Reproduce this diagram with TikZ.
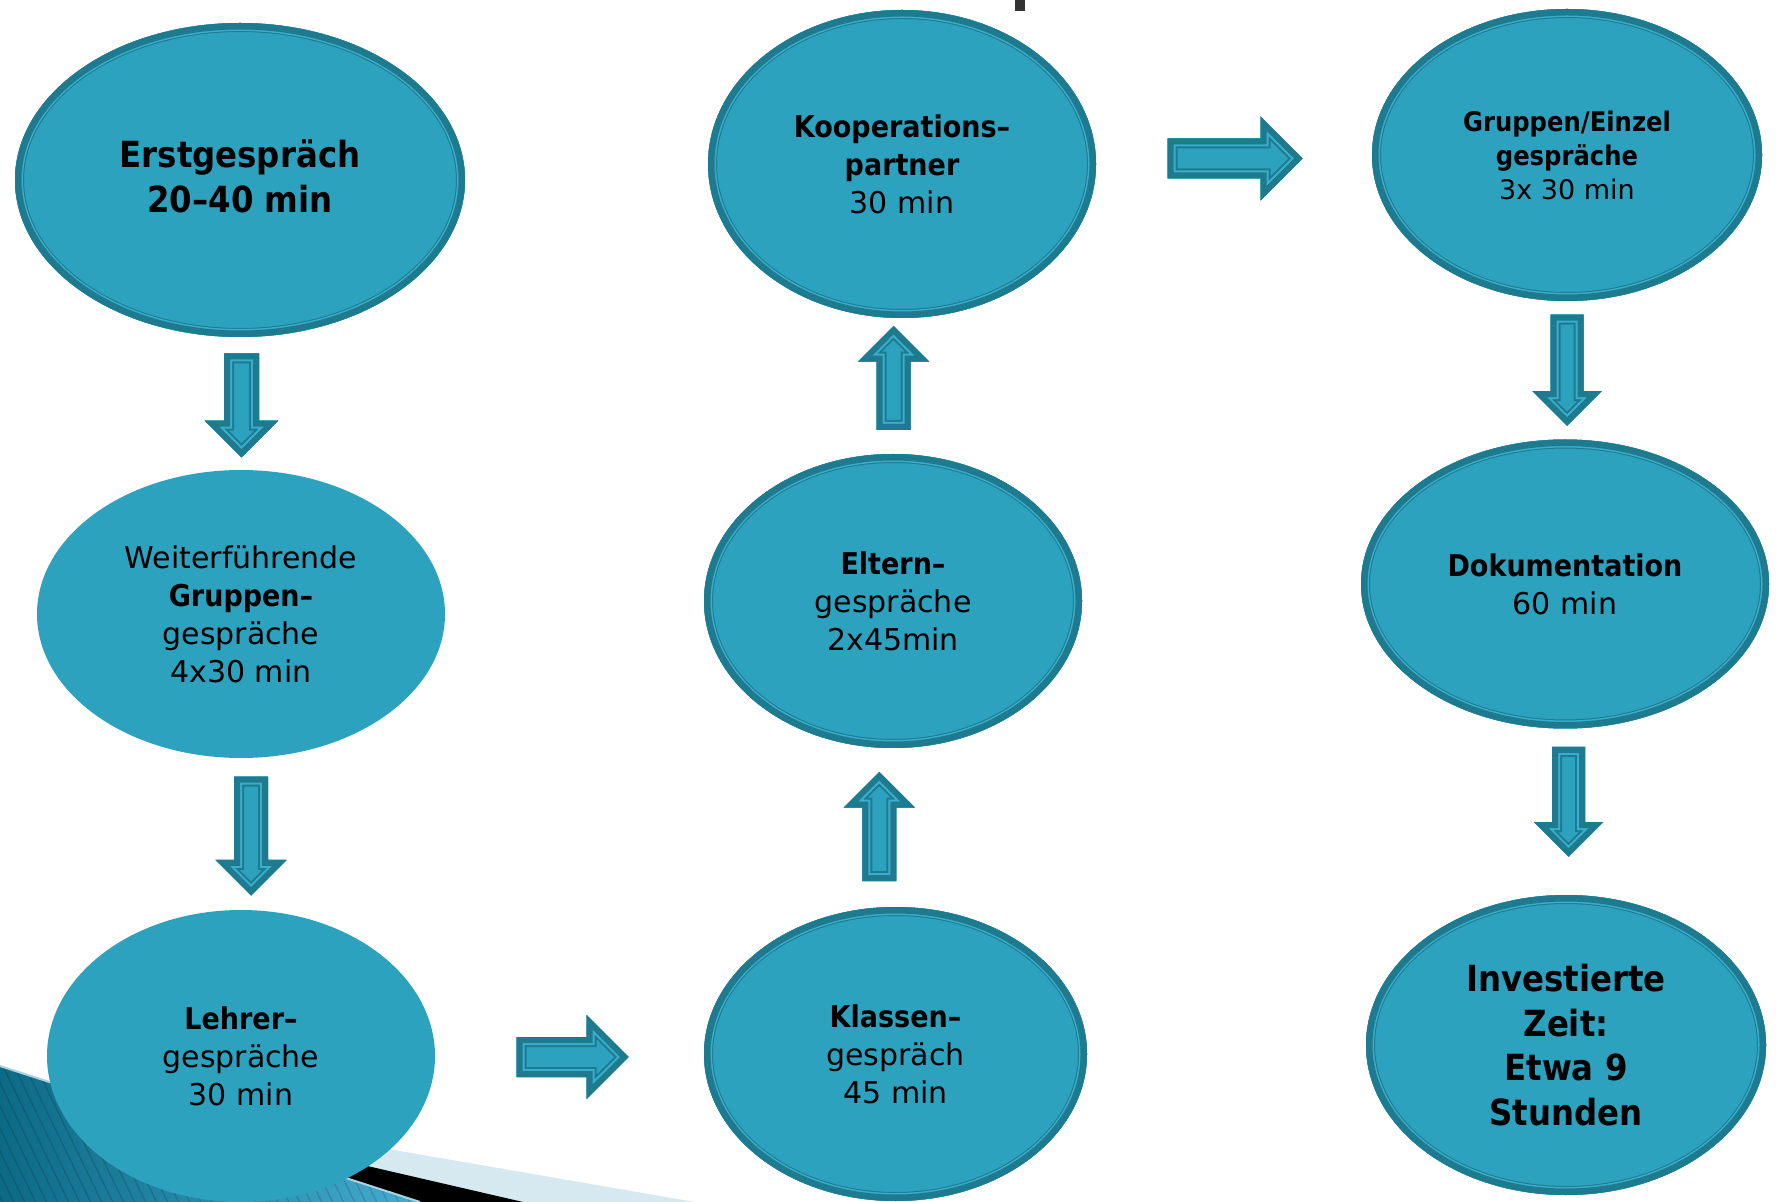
\documentclass[tikz,border=0pt]{standalone}
\usepackage{fontspec}
\setmainfont{DejaVu Sans}[BoldFeatures={FakeStretch=0.9}]
\usepackage{tikz}
\usetikzlibrary{shapes.geometric, calc}

\definecolor{tealfill}{HTML}{2CA2BF}
\definecolor{tealdark}{HTML}{1E7A8E}
\definecolor{teallight}{HTML}{38AECC}
\definecolor{bandlight}{HTML}{D6E9F0}
\definecolor{stripedark}{HTML}{0C6A86}
\definecolor{stripelight}{HTML}{45ACD0}
\definecolor{edgelight}{HTML}{A9D3E0}

\tikzset{
  bubble/.style={ellipse, fill=tealfill, inner sep=0pt, align=center,
                 font=\fontsize{15}{19}\selectfont},
  ringed/.style={path picture={
      \foreach \w/\c in {9pt/tealdark, 8pt/teallight, 6.5pt/tealdark}
        \draw[\c, line width=\w]
          let \p1=($(path picture bounding box.north east)-(path picture bounding box.center)$)
          in (path picture bounding box.center) ellipse ({\x1} and {\y1});
  }},
  pics/fatarrow/.style n args={2}{code={
      \pgfmathsetmacro\fa{#1/2}
      \pgfmathsetmacro\fb{#1/2-1.05*#2}
      \pgfmathsetmacro\fs{#2/2}
      \pgfmathsetmacro\fh{1.05*#2}
      \def\fatpath{(-\fa,-\fs) -- (\fb,-\fs) -- (\fb,-\fh) -- (\fa,0) -- (\fb,\fh) -- (\fb,\fs) -- (-\fa,\fs) -- cycle}
      \begin{scope}[line join=miter]
        \clip \fatpath;
        \fill[tealfill] \fatpath;
        \draw[tealdark, line width=10pt] \fatpath;
        \draw[teallight, line width=8pt] \fatpath;
        \draw[tealdark, line width=6pt] \fatpath;
      \end{scope}
  }}
}

\begin{document}
\begin{tikzpicture}[x=0.5pt, y=-0.5pt]
  \path[fill=white, use as bounding box] (0,0) rectangle (1777,1202);

  % slide corner
  \fill[bandlight] (0,1082) -- (695,1202) -- (0,1202) -- cycle;
  \fill[black] (0,1081) -- (523,1202) -- (0,1202) -- cycle;
  \begin{scope}
    \clip (0,1066) -- (420,1202) -- (0,1202) -- cycle;
    \shade[left color=stripedark, right color=stripelight] (0,1060) rectangle (420,1202);
    \foreach \i in {-8,...,40}
      \draw[black, opacity=0.15, line width=0.6pt] (\i*11,1060) -- ++(70,145);
  \end{scope}
  \draw[edgelight, line width=1pt] (0,1066) -- (420,1202);
  \fill[gray!40!black] (1015,0) rectangle (1025,11);

  % left column
  \node[bubble, ringed, minimum width=225pt, minimum height=157pt,
        font=\fontsize{18}{22.4}\selectfont\bfseries] (erst) at (240,180)
       {Erstgespräch\\20–40 min\vphantom{g}};
  \node[bubble, minimum width=204pt, minimum height=144pt] (weiter) at (241,614)
       {Weiterführende\\\textbf{Gruppen–}\\gespräche\\4x30 min};
  \node[bubble, minimum width=194pt, minimum height=146pt] (lehrer) at (241,1056)
       {\textbf{Lehrer–}\\gespräche\\30 min};

  % middle column
  \node[bubble, ringed, minimum width=191.5pt, minimum height=147pt] (klassen) at (895.5,1054)
       {\textbf{Klassen–}\\gespräch\\45 min};
  \node[bubble, ringed, minimum width=189pt, minimum height=147pt] (eltern) at (893,601)
       {\textbf{Eltern–}\\gespräche\\2x45min};
  \node[bubble, ringed, minimum width=194pt, minimum height=154pt] (koop) at (902,164)
       {\textbf{Kooperations–}\\\textbf{partner}\\30 min};

  % right column
  \node[bubble, ringed, minimum width=195pt, minimum height=146pt,
        font=\fontsize{13.5}{17}\selectfont] (gruppe) at (1567,155)
       {\textbf{Gruppen/Einzel}\\\textbf{gespräche}\\3x 30 min};
  \node[bubble, ringed, minimum width=204pt, minimum height=144.5pt] (doku) at (1565,584)
       {\textbf{Dokumentation}\\60 min};
  \node[bubble, ringed, minimum width=200pt, minimum height=150pt,
        font=\fontsize{18}{22.4}\selectfont\bfseries] (invest) at (1566,1045)
       {Investierte\\Zeit:\\Etwa 9\\Stunden};

  % block arrows
  \pic[rotate=-90] at ($(erst.south)!0.5!(weiter.north)+(1,2)$) {fatarrow={104}{35}};
  \pic[rotate=-90] at ($(weiter.south)!0.5!(lehrer.north)+(10,2)$) {fatarrow={119}{34}};
  \pic at ($(lehrer.east)!0.5!(klassen.west)+(3,2)$) {fatarrow={112}{40}};
  \pic[rotate=90] at ($(klassen.north)!0.5!(eltern.south)+(-15,-1)$) {fatarrow={109}{34}};
  \pic[rotate=90] at ($(eltern.north)!0.5!(koop.south)+(-4,-8)$) {fatarrow={104}{34}};
  \pic at ($(koop.east)!0.5!(gruppe.west)+(1,-1)$) {fatarrow={135}{40}};
  \pic[rotate=-90] at ($(gruppe.south)!0.5!(doku.north)+(1,0)$) {fatarrow={111}{33}};
  \pic[rotate=-90] at ($(doku.south)!0.5!(invest.north)+(3,-10)$) {fatarrow={110}{33}};
\end{tikzpicture}
\end{document}
